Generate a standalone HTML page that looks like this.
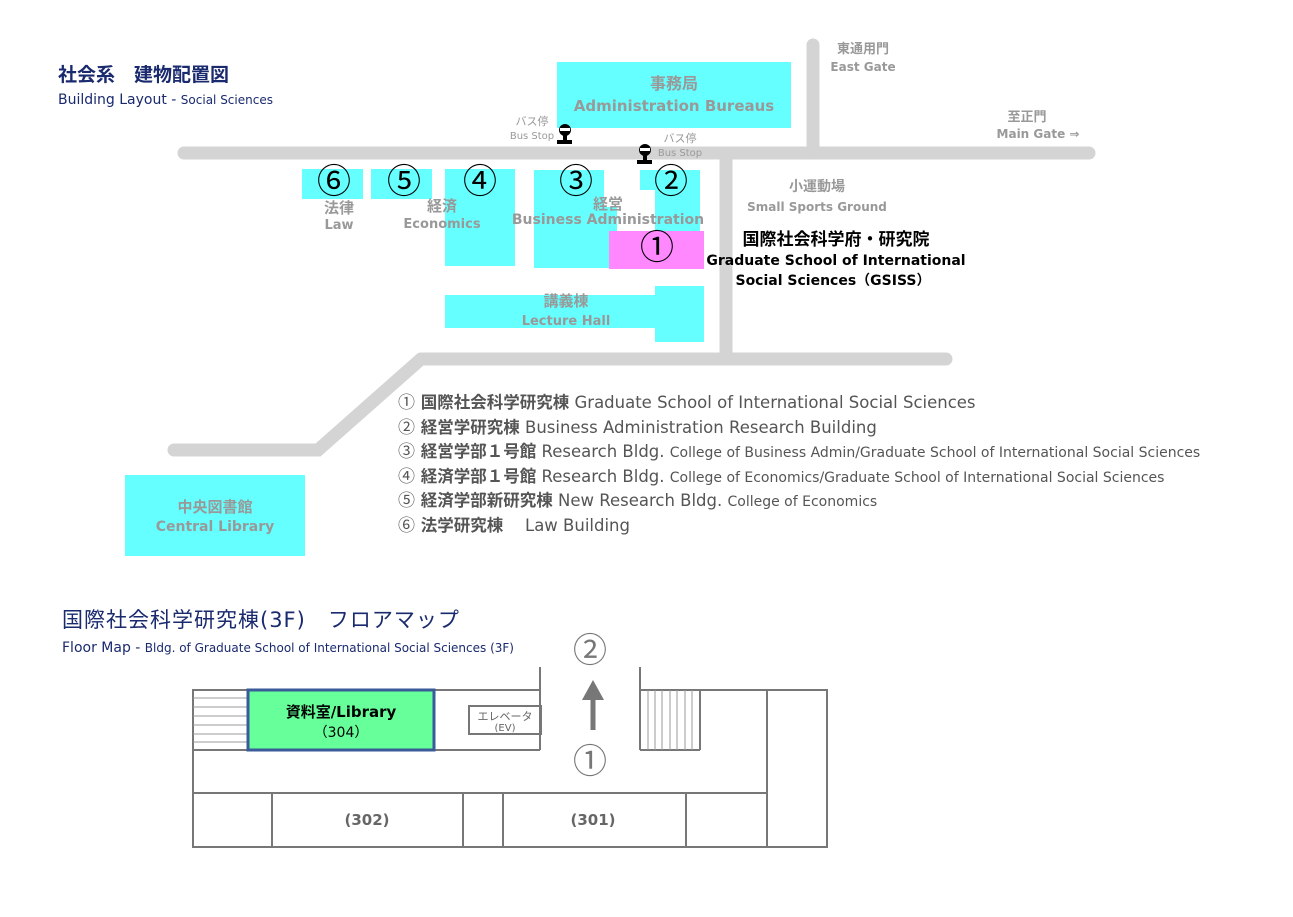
<!DOCTYPE html>
<html><head><meta charset="utf-8"><style>
body{margin:0;background:#fff;width:1293px;height:912px;overflow:hidden}
svg text{font-family:"DejaVu Sans","Noto Sans CJK JP",sans-serif}
svg .c{font-family:"Noto Sans CJK JP",sans-serif}
</style></head><body>
<svg width="1293" height="912" xmlns="http://www.w3.org/2000/svg">
<g stroke="#d4d4d4" stroke-width="13" stroke-linecap="round" fill="none">
<line x1="184" y1="153" x2="1089" y2="153"/>
<line x1="813" y1="45" x2="813" y2="153"/>
<line x1="726" y1="153" x2="726" y2="358"/>
<line x1="421" y1="359" x2="946" y2="359"/>
<polyline points="421,359 318,450 174,450"/>
</g>
<g fill="#66ffff">
<rect x="557" y="62" width="234" height="66"/>
<rect x="302" y="169" width="61" height="30"/>
<rect x="371" y="169" width="61" height="30"/>
<rect x="445" y="169" width="70" height="97"/>
<rect x="534" y="170" width="70" height="98"/>
<rect x="534" y="207" width="83" height="61"/>
<rect x="640" y="170" width="60" height="20"/>
<rect x="655" y="170" width="45" height="62"/>
<rect x="445" y="295" width="215" height="33"/>
<rect x="655" y="286" width="49" height="56"/>
<rect x="125" y="475" width="180" height="81"/>
</g>
<rect x="609" y="231" width="95" height="38" fill="#ff88ff"/>
<text x="58" y="81" font-size="19" fill="#1a2a6e" font-weight="bold">社会系　建物配置図</text>
<text x="58" y="104" font-size="14" fill="#1a2a6e">Building Layout - <tspan font-size="12">Social Sciences</tspan></text>
<g fill="#999" font-weight="bold" text-anchor="middle">
<text x="674" y="89" font-size="16">事務局</text>
<text x="674" y="111" font-size="15">Administration Bureaus</text>
<text x="863" y="53" font-size="13">東通用門</text>
<text x="863" y="71" font-size="12">East Gate</text>
<text x="1027" y="121" font-size="13">至正門</text>
<text x="1038" y="138" font-size="12">Main Gate ⇒</text>
<text x="817" y="191" font-size="14">小運動場</text>
<text x="817" y="211" font-size="12">Small Sports Ground</text>
<text x="339" y="213" font-size="15">法律</text>
<text x="339" y="229" font-size="13">Law</text>
<text x="442" y="211" font-size="15">経済</text>
<text x="442" y="228" font-size="13">Economics</text>
<text x="608" y="209" font-size="15">経営</text>
<text x="608" y="224" font-size="14">Business Administration</text>
<text x="566" y="306" font-size="15">講義棟</text>
<text x="566" y="325" font-size="13">Lecture Hall</text>
<text x="215" y="512" font-size="15">中央図書館</text>
<text x="215" y="531" font-size="14">Central Library</text>
<text x="532" y="125" font-size="11" font-weight="normal">バス停</text>
<text x="532" y="139" font-size="10" font-weight="normal">Bus Stop</text>
<text x="680" y="142" font-size="11" font-weight="normal">バス停</text>
<text x="680" y="156" font-size="10" font-weight="normal">Bus Stop</text>
</g>
<g fill="#000">
<circle cx="565" cy="130" r="6"/><rect x="563" y="130" width="4" height="12"/><rect x="557" y="140" width="15" height="4"/>
<circle cx="645" cy="150" r="6"/><rect x="643" y="150" width="4" height="12"/><rect x="637" y="160" width="15" height="4"/>
</g>
<rect x="560" y="128" width="10" height="3" fill="#fff"/>
<rect x="640" y="148" width="10" height="3" fill="#fff"/>
<g font-size="34" text-anchor="middle" fill="#000" class="c">
<text class="c" x="334" y="193">⑥</text><text class="c" x="404" y="193">⑤</text><text class="c" x="480" y="193">④</text>
<text class="c" x="576" y="193">③</text><text class="c" x="671" y="193">②</text><text class="c" x="657" y="259">①</text>
</g>
<g font-weight="bold" text-anchor="middle" fill="#000">
<text x="836" y="245" font-size="17">国際社会科学府・研究院</text>
<text x="836" y="265" font-size="14">Graduate School of International</text>
<text x="833" y="285" font-size="14">Social Sciences（GSISS）</text>
</g>
<g fill="#555" font-size="16.5">
<text x="398" y="408"><tspan class="c" font-size="17">①</tspan><tspan font-weight="bold"> 国際社会科学研究棟</tspan>  Graduate School of International Social Sciences</text>
<text x="398" y="433"><tspan class="c" font-size="17">②</tspan><tspan font-weight="bold"> 経営学研究棟</tspan>  Business Administration Research Building</text>
<text x="398" y="457"><tspan class="c" font-size="17">③</tspan><tspan font-weight="bold"> 経営学部１号館</tspan>  Research Bldg. <tspan font-size="14">College of Business Admin/Graduate School of International Social Sciences</tspan></text>
<text x="398" y="482"><tspan class="c" font-size="17">④</tspan><tspan font-weight="bold"> 経済学部１号館</tspan>  Research Bldg. <tspan font-size="14">College of Economics/Graduate School of International Social Sciences</tspan></text>
<text x="398" y="506"><tspan class="c" font-size="17">⑤</tspan><tspan font-weight="bold"> 経済学部新研究棟</tspan>  New Research Bldg. <tspan font-size="14">College of Economics</tspan></text>
<text x="398" y="531"><tspan class="c" font-size="17">⑥</tspan><tspan font-weight="bold"> 法学研究棟</tspan>　 Law Building</text>
</g>
<text x="62" y="627" font-size="21" fill="#1a2a6e" letter-spacing="1">国際社会科学研究棟(3F)　フロアマップ</text>
<text x="62" y="652" font-size="14" fill="#1a2a6e">Floor Map - <tspan font-size="12">Bldg. of Graduate School of International Social Sciences (3F)</tspan></text>
<g stroke="#777" stroke-width="2" fill="none">
<polyline points="540,667 540,690 193,690 193,847 827,847 827,690 640,690 640,667"/>
<line x1="193" y1="750" x2="540" y2="750"/>
<line x1="540" y1="690" x2="540" y2="750"/>
<line x1="640" y1="690" x2="640" y2="750"/>
<line x1="640" y1="750" x2="700" y2="750"/>
<line x1="700" y1="690" x2="700" y2="750"/>
<line x1="767" y1="690" x2="767" y2="847"/>
<line x1="193" y1="793" x2="767" y2="793"/>
<line x1="272" y1="793" x2="272" y2="847"/>
<line x1="463" y1="793" x2="463" y2="847"/>
<line x1="503" y1="793" x2="503" y2="847"/>
<line x1="686" y1="793" x2="686" y2="847"/>
<rect x="469" y="706" width="72" height="28"/>
</g>
<g stroke="#999" stroke-width="1">
<line x1="193" y1="698" x2="247" y2="698"/><line x1="193" y1="707" x2="247" y2="707"/><line x1="193" y1="716" x2="247" y2="716"/><line x1="193" y1="725" x2="247" y2="725"/><line x1="193" y1="734" x2="247" y2="734"/><line x1="193" y1="742" x2="247" y2="742"/>
<line x1="648" y1="690" x2="648" y2="750"/><line x1="655" y1="690" x2="655" y2="750"/><line x1="662" y1="690" x2="662" y2="750"/><line x1="670" y1="690" x2="670" y2="750"/><line x1="677" y1="690" x2="677" y2="750"/><line x1="685" y1="690" x2="685" y2="750"/><line x1="692" y1="690" x2="692" y2="750"/>
</g>
<rect x="248" y="690" width="186" height="60" fill="#66ff99" stroke="#3a5a9a" stroke-width="3"/>
<text x="341" y="717" font-size="15" font-weight="bold" text-anchor="middle" fill="#000">資料室/Library</text>
<text x="341" y="737" font-size="14" text-anchor="middle" fill="#000">（304）</text>
<text x="505" y="720" font-size="11" text-anchor="middle" fill="#666">エレベータ</text>
<text x="505" y="731" font-size="10" text-anchor="middle" fill="#666">(EV)</text>
<text x="367" y="825" font-size="15" font-weight="bold" text-anchor="middle" fill="#666">(302)</text>
<text x="593" y="825" font-size="15" font-weight="bold" text-anchor="middle" fill="#666">(301)</text>
<line x1="593" y1="730" x2="593" y2="696" stroke="#777" stroke-width="5"/>
<polygon points="593,680 582,700 604,700" fill="#777"/>
<text class="c" x="590" y="662" font-size="34" text-anchor="middle" fill="#777">②</text>
<text class="c" x="590" y="773" font-size="34" text-anchor="middle" fill="#777">①</text>
</svg>
</body></html>
